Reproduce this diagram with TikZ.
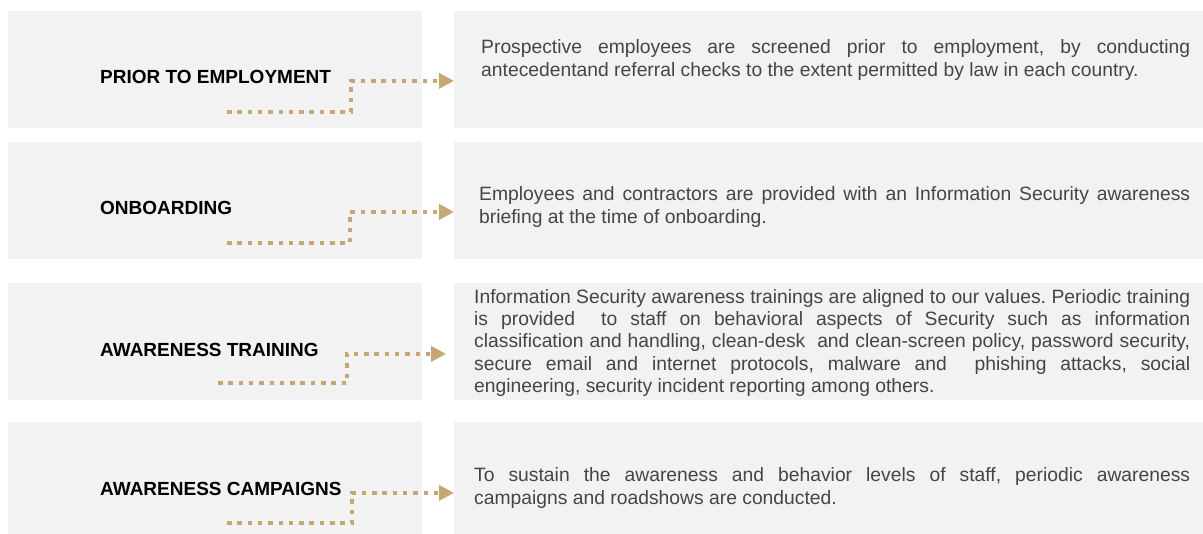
\documentclass[tikz,border=0pt]{standalone}
\usepackage{fontspec}
\setmainfont{Liberation Sans}
\usetikzlibrary{arrows.meta,positioning}
\definecolor{panelgray}{HTML}{F2F2F2}
\definecolor{linktan}{HTML}{C6A674}
\definecolor{bodygray}{HTML}{454545}

\begin{document}
\frenchspacing
\begin{tikzpicture}[x=1pt, y=-1pt,
  panel/.style={fill=panelgray, anchor=north west, inner sep=0pt,
    minimum height=117pt},
  stagebox/.style={panel, minimum width=414pt},
  detailbox/.style={panel, minimum width=749pt},
  stagename/.style={anchor=west, inner sep=0pt,
    font=\fontsize{19}{22}\selectfont\bfseries},
  desc/.style={anchor=west, inner sep=0pt, align=justify, text=bodygray,
    font=\fontsize{19.3}{22.3}\selectfont},
  link/.style={linktan, line width=4.5pt, dash pattern=on 4.5pt off 5.8pt,
    -{Triangle[length=15pt,width=15pt]}}]
\useasboundingbox (0,0) rectangle (1203,534);

\node[stagebox] (b1) at (8,11) {};
\node[detailbox] (r1) at (454,11) {};
\node[stagebox] (b2) at (8,142) {};
\node[detailbox] (r2) at (454,142) {};
\node[stagebox] (b3) at (8,283) {};
\node[detailbox] (r3) at (454,283) {};
\node[stagebox, minimum height=112pt] (b4) at (8,422) {};
\node[detailbox, minimum height=112pt] (r4) at (454,422) {};

\node[stagename] (t1) at (100,77) {PRIOR TO EMPLOYMENT};
\node[stagename] (t2) at (100,208) {ONBOARDING};
\node[stagename] (t3) at (100,350) {AWARENESS TRAINING};
\node[stagename] (t4) at (100,489) {AWARENESS CAMPAIGNS};

\node[desc, text width=709pt] (d1) at (481,60)
  {Prospective employees are screened prior to employment, by conducting\linebreak
   antecedentand referral checks to the extent permitted by law in each country.};
\node[desc, text width=711pt] (d2) at (479,207)
  {Employees and contractors are provided with an Information Security awareness\linebreak
   briefing at the time of onboarding.};
\node[desc, text width=716pt] (d3) at (474,343)
  {Information Security awareness trainings are aligned to our values. Periodic training\linebreak
   is provided\ \ to staff on behavioral aspects of Security such as information\linebreak
   classification and handling, clean-desk\ \ and clean-screen policy, password security,\linebreak
   secure email and internet protocols, malware and\ \ phishing attacks, social\linebreak
   engineering, security incident reporting among others.};
\node[desc, text width=716pt] (d4) at (474,488)
  {To sustain the awareness and behavior levels of staff, periodic awareness\linebreak
   campaigns and roadshows are conducted.};

\coordinate (s1) at (227,112);
\coordinate (s2) at (227,243);
\coordinate (s3) at (218,383);
\coordinate (s4) at (227,523);
\draw[link] (s1) -- ++(124,0) |- (t1.mid -| r1.west);
\draw[link] (s2) -- ++(123,0) |- (t2.mid -| r2.west);
\draw[link, shorten >=8pt] (s3) -- ++(129,0) |- (t3.mid -| r3.west);
\draw[link] (s4) -- ++(125,0) |- (t4.mid -| r4.west);
\end{tikzpicture}
\end{document}
